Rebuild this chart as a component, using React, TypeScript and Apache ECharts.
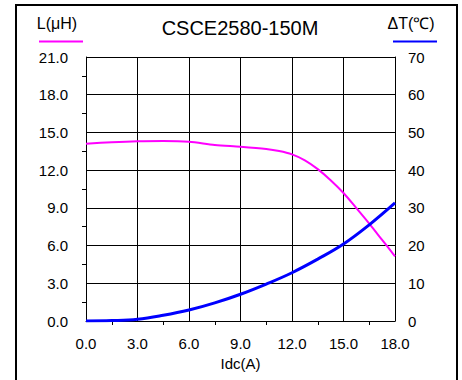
import React, { useEffect, useRef } from "react";
import * as echarts from "echarts";

const currentL = [0, 1.5, 3, 4.5, 6, 7.5, 9, 10.5, 11.25, 12, 12.75, 13.5, 14.25, 15, 15.75, 16.5, 17.25, 18];
const inductance = [14.1, 14.22, 14.3, 14.32, 14.26, 14.0, 13.86, 13.68, 13.52, 13.25, 12.78, 12.08, 11.2, 10.18, 8.98, 7.75, 6.45, 5.15];
const currentT = [0, 1.5, 3, 4.5, 6, 7.5, 9, 10.5, 12, 13.5, 15, 16.5, 18];
const tempRise = [0, 0.1, 0.45, 1.5, 2.9, 4.8, 7.1, 9.8, 12.8, 16.4, 20.4, 25.5, 31.3];
const xTicks = [0, 3, 6, 9, 12, 15, 18];
const leftTicks = [0, 3, 6, 9, 12, 15, 18, 21];
const rightTicks = [0, 10, 20, 30, 40, 50, 60, 70];

const FONT = "'Liberation Sans', Arial, sans-serif";
const LABEL_SIZE = 15;

export default function App() {
  const ref = useRef<HTMLDivElement>(null);
  useEffect(() => {
    if (!ref.current) return;
    const chart = echarts.init(ref.current, null, { renderer: "svg" });
    const axisCommon = {
      axisLine: { show: true, lineStyle: { color: "#000", width: 1 } },
      splitLine: { show: true, lineStyle: { color: "#000", width: 1 } },
      axisLabel: { color: "#000", fontSize: LABEL_SIZE, fontFamily: FONT },
    };
    chart.setOption({
      animation: false,
      backgroundColor: "#fff",
      textStyle: { fontFamily: FONT },
      grid: { left: 86, right: 67, top: 57, bottom: 59, containLabel: false },
      xAxis: {
        type: "value",
        min: xTicks[0],
        max: xTicks[xTicks.length - 1],
        interval: 3,
        ...axisCommon,
        axisTick: { show: false },
        minorTick: { show: true, splitNumber: 2, length: 4, lineStyle: { color: "#000" } },
        axisLabel: { ...axisCommon.axisLabel, margin: 15, formatter: (v: number) => v.toFixed(1) },
        name: "Idc(A)",
        nameLocation: "middle",
        nameGap: 35,
        nameTextStyle: { color: "#000", fontSize: LABEL_SIZE, fontFamily: FONT },
      },
      yAxis: [
        {
          type: "value",
          min: leftTicks[0],
          max: leftTicks[leftTicks.length - 1],
          interval: 3,
          position: "left",
          ...axisCommon,
          axisTick: { show: false },
          minorTick: { show: true, splitNumber: 2, length: 4, lineStyle: { color: "#000" } },
          axisLabel: { ...axisCommon.axisLabel, margin: 18, formatter: (v: number) => v.toFixed(1) },
        },
        {
          type: "value",
          min: rightTicks[0],
          max: rightTicks[rightTicks.length - 1],
          interval: 10,
          position: "right",
          ...axisCommon,
          splitLine: { show: false },
          axisTick: { show: false },
          axisLabel: { ...axisCommon.axisLabel, margin: 13 },
        },
      ],
      graphic: [
        {
          type: "rect",
          shape: { x: 16, y: 5, width: 441, height: 420 },
          style: { fill: "none", stroke: "#000", lineWidth: 2 },
          silent: true,
        },
        {
          type: "text",
          x: 240,
          y: 28,
          style: { text: "CSCE2580-150M", fontSize: 20, fontFamily: FONT, fill: "#000", align: "center", verticalAlign: "middle" },
        },
        {
          type: "text",
          x: 57,
          y: 23,
          style: { text: "L(μH)", fontSize: 16, fontFamily: FONT, fill: "#000", align: "center", verticalAlign: "middle" },
        },
        {
          type: "line",
          shape: { x1: 39, y1: 41.5, x2: 83, y2: 41.5 },
          style: { stroke: "#ff00ff", lineWidth: 2 },
        },
        {
          type: "text",
          x: 411,
          y: 23,
          style: { text: "ΔT(℃)", fontSize: 16, fontFamily: FONT, fill: "#000", align: "center", verticalAlign: "middle" },
        },
        {
          type: "line",
          shape: { x1: 393, y1: 41.5, x2: 437, y2: 41.5 },
          style: { stroke: "#0000ff", lineWidth: 2 },
        },
      ],
      series: [
        {
          type: "line",
          yAxisIndex: 0,
          data: currentL.map((x, i) => [x, inductance[i]]),
          smooth: 0.3,
          showSymbol: false,
          lineStyle: { color: "#ff00ff", width: 2 },
          z: 3,
        },
        {
          type: "line",
          yAxisIndex: 1,
          data: currentT.map((x, i) => [x, tempRise[i]]),
          smooth: 0.4,
          showSymbol: false,
          lineStyle: { color: "#0000ff", width: 3 },
          z: 4,
        },
      ],
    });
    return () => chart.dispose();
  }, []);
  return (
    <div
      ref={ref}
      style={{ position: "fixed", left: 0, top: 0, width: 462, height: 380 }}
    />
  );
}
